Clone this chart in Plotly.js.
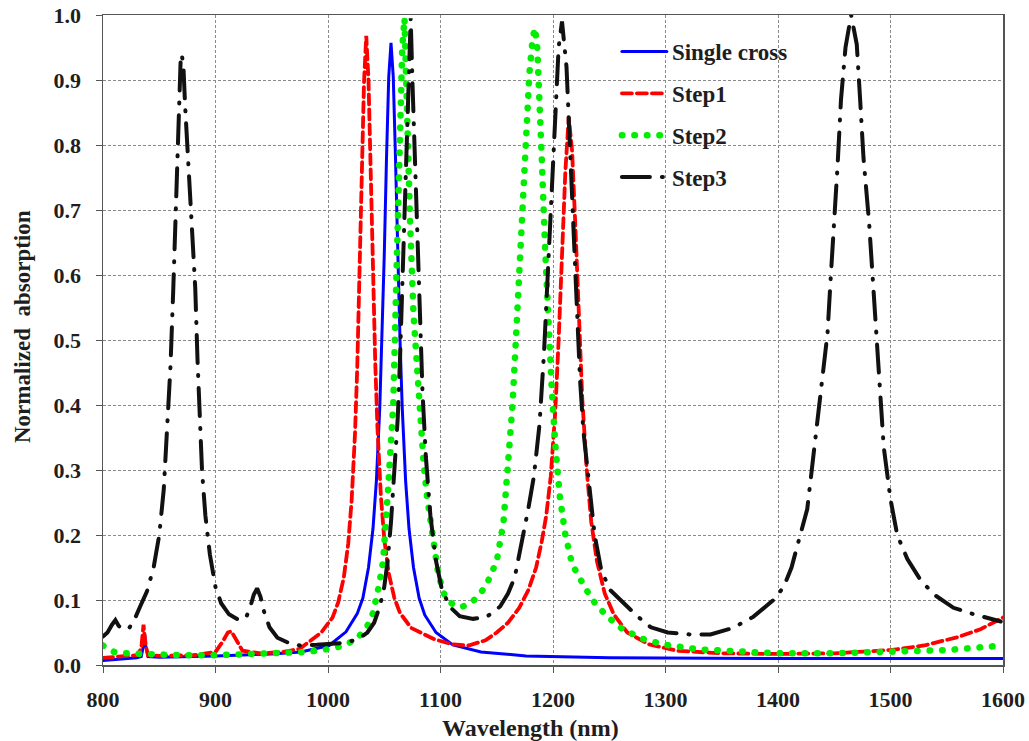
<!DOCTYPE html>
<html>
<head>
<meta charset="utf-8">
<script src="https://cdn.plot.ly/plotly-3.0.1.min.js"></script>
<style>
  html, body { margin: 0; padding: 0; background: #fff; }
  #chart { width: 1029px; height: 741px; }
  .scatterlayer .js-line, .legend .js-line { stroke-linecap: round; }
</style>
</head>
<body>
<div id="chart"></div>
<script>
// Wavelength (nm) and normalized absorption values
var singleX = [800, 820, 830, 834, 836, 837, 838, 840, 850, 900, 950, 976, 1001, 1016, 1026, 1031, 1036, 1040, 1043, 1046, 1048, 1050, 1052, 1054, 1056, 1058, 1060, 1062, 1064, 1066, 1069, 1072, 1076, 1081, 1086, 1096, 1111, 1136, 1176, 1250, 1400, 1600];
var singleY = [0.007, 0.009, 0.011, 0.013, 0.03, 0.047, 0.03, 0.013, 0.012, 0.014, 0.017, 0.02, 0.03, 0.051, 0.079, 0.103, 0.15, 0.21, 0.283, 0.395, 0.5, 0.63, 0.78, 0.905, 0.957, 0.905, 0.78, 0.63, 0.5, 0.395, 0.283, 0.21, 0.15, 0.103, 0.077, 0.05, 0.031, 0.02, 0.014, 0.011, 0.01, 0.01];

var step1X = [800, 820, 830, 834, 836, 837, 838, 840, 850, 880, 900, 906, 911, 914, 918, 924, 940, 960, 975, 994, 1004, 1009, 1014, 1018, 1021, 1024, 1026, 1028, 1030, 1032, 1034, 1036, 1038, 1040, 1042, 1044, 1047, 1050, 1054, 1059, 1064, 1074, 1094, 1110, 1125, 1140, 1150, 1160, 1170, 1178, 1185, 1190, 1194, 1198, 1202, 1205, 1208, 1211, 1214, 1217, 1220, 1223, 1226, 1230, 1234, 1239, 1246, 1254, 1266, 1285, 1310, 1350, 1400, 1450, 1500, 1530, 1560, 1580, 1600];
var step1Y = [0.011, 0.013, 0.015, 0.025, 0.062, 0.045, 0.03, 0.015, 0.014, 0.015, 0.02, 0.035, 0.05, 0.052, 0.04, 0.022, 0.018, 0.02, 0.025, 0.05, 0.073, 0.096, 0.134, 0.187, 0.253, 0.356, 0.458, 0.591, 0.75, 0.896, 0.968, 0.9, 0.757, 0.598, 0.465, 0.363, 0.26, 0.194, 0.141, 0.103, 0.08, 0.057, 0.04, 0.032, 0.03, 0.038, 0.05, 0.065, 0.088, 0.115, 0.15, 0.19, 0.23, 0.29, 0.39, 0.5, 0.63, 0.76, 0.843, 0.79, 0.67, 0.53, 0.41, 0.3, 0.22, 0.16, 0.11, 0.078, 0.05, 0.032, 0.022, 0.018, 0.017, 0.018, 0.023, 0.03, 0.043, 0.055, 0.073];

var step2X = [800, 810, 820, 840, 870, 900, 930, 960, 980, 995, 1010, 1020, 1028, 1035, 1040, 1045, 1049, 1053, 1056, 1058, 1061, 1063.8, 1066, 1068, 1070, 1073, 1076, 1079, 1082, 1085, 1088, 1093, 1098, 1103, 1108, 1114, 1120, 1126, 1130, 1140, 1150, 1156, 1160, 1164, 1167, 1170, 1173, 1176, 1179, 1182, 1184, 1186, 1188, 1190, 1193, 1196, 1199, 1202, 1206, 1211, 1217, 1225, 1235, 1248, 1262, 1280, 1300, 1330, 1370, 1400, 1450, 1500, 1550, 1600];
var step2Y = [0.03, 0.02, 0.018, 0.016, 0.015, 0.015, 0.016, 0.018, 0.02, 0.023, 0.028, 0.035, 0.045, 0.06, 0.08, 0.12, 0.16, 0.26, 0.33, 0.4, 0.61, 0.82, 0.95, 0.995, 0.85, 0.68, 0.54, 0.46, 0.39, 0.31, 0.26, 0.19, 0.14, 0.11, 0.097, 0.09, 0.09, 0.095, 0.1, 0.12, 0.16, 0.22, 0.3, 0.4, 0.5, 0.61, 0.72, 0.82, 0.91, 0.965, 0.98, 0.95, 0.88, 0.78, 0.64, 0.52, 0.42, 0.34, 0.26, 0.2, 0.155, 0.13, 0.1, 0.075, 0.055, 0.04, 0.031, 0.024, 0.02, 0.018, 0.018, 0.02, 0.023, 0.03];

var step3X = [800, 804, 808, 811, 814, 818, 823, 828, 833, 839, 845, 850, 854, 857, 860, 862.5, 865, 867, 869, 870, 871.5, 873, 875, 877.5, 880, 882, 884, 886, 888, 891, 895, 900, 905, 912, 920, 927, 931, 934, 937, 940, 943, 948, 955, 965, 975, 990, 1005, 1015, 1027, 1035, 1041, 1046, 1050, 1053, 1056, 1059, 1062, 1064, 1066.5, 1069, 1071, 1072.5, 1073.5, 1075, 1077, 1079, 1081.5, 1084, 1087, 1091, 1096, 1101, 1108, 1117, 1129, 1141, 1153, 1160, 1166, 1172, 1178, 1183, 1188, 1192, 1196, 1199, 1202, 1205, 1208, 1210, 1212, 1215, 1218, 1221, 1224, 1227, 1231, 1237, 1243, 1251, 1263, 1275, 1287, 1302, 1322, 1340, 1360, 1378, 1396, 1405, 1412, 1420, 1426, 1432, 1438, 1444, 1447, 1450, 1453, 1456, 1460, 1465, 1470, 1473, 1476, 1481, 1484, 1487, 1491, 1494, 1500, 1506, 1515, 1527, 1539, 1556, 1574, 1598];
var step3Y = [0.044, 0.05, 0.062, 0.069, 0.06, 0.055, 0.056, 0.07, 0.09, 0.113, 0.15, 0.2, 0.27, 0.36, 0.46, 0.58, 0.72, 0.85, 0.93, 0.94, 0.92, 0.86, 0.8, 0.74, 0.66, 0.58, 0.47, 0.38, 0.3, 0.23, 0.17, 0.12, 0.095, 0.078, 0.07, 0.072, 0.09, 0.108, 0.118, 0.105, 0.083, 0.058, 0.042, 0.034, 0.03, 0.031, 0.032, 0.034, 0.04, 0.05, 0.065, 0.09, 0.12, 0.16, 0.22, 0.29, 0.38, 0.47, 0.6, 0.74, 0.86, 0.95, 0.995, 0.9, 0.8, 0.69, 0.55, 0.42, 0.32, 0.23, 0.16, 0.118, 0.09, 0.075, 0.071, 0.074, 0.09, 0.11, 0.135, 0.185, 0.24, 0.29, 0.37, 0.48, 0.63, 0.75, 0.86, 0.95, 0.99, 0.96, 0.92, 0.8, 0.67, 0.54, 0.44, 0.36, 0.29, 0.2, 0.145, 0.115, 0.095, 0.075, 0.058, 0.05, 0.047, 0.047, 0.057, 0.074, 0.1, 0.12, 0.15, 0.2, 0.24, 0.33, 0.42, 0.51, 0.6, 0.68, 0.77, 0.87, 0.95, 1.0, 0.955, 0.87, 0.78, 0.68, 0.6, 0.51, 0.42, 0.335, 0.255, 0.2, 0.163, 0.13, 0.108, 0.088, 0.078, 0.067];

var seriesNames = ['Single cross', 'Step1', 'Step2', 'Step3'];
var xTicks = [800, 900, 1000, 1100, 1200, 1300, 1400, 1500, 1600];
var yTicks = [0.0, 0.1, 0.2, 0.3, 0.4, 0.5, 0.6, 0.7, 0.8, 0.9, 1.0];
var xTitle = 'Wavelength (nm)';
var yTitle = 'Normalized\u00a0 absorption';

var serif = 'Liberation Serif, Times New Roman, serif';
var ink = '#1e1e1e';

var traces = [
  {x: singleX, y: singleY, name: seriesNames[0], legendgroup: 'a', mode: 'lines',
   line: {color: '#0000ff', width: 3}},
  {x: step1X, y: step1Y, name: seriesNames[1], legendgroup: 'b', mode: 'lines',
   line: {color: '#ff0000', width: 3.8, dash: '10px,5px'}},
  {x: step2X, y: step2Y, name: seriesNames[2], legendgroup: 'c', mode: 'lines',
   line: {color: '#00ee00', width: 6.5, dash: '0.5px,12px'}},
  {x: step3X, y: step3Y, name: seriesNames[3], legendgroup: 'd', mode: 'lines',
   line: {color: '#111111', width: 4, dash: '28px,12px,1px,12px'}}
];

var layout = {
  width: 1029, height: 741,
  paper_bgcolor: '#ffffff', plot_bgcolor: '#ffffff',
  margin: {l: 103, r: 26, t: 15, b: 76},
  font: {family: serif, color: ink, size: 22, weight: 'bold'},
  showlegend: true,
  legend: {
    x: 0.571, y: 0.977, xanchor: 'left', yanchor: 'top',
    bgcolor: 'rgba(0,0,0,0)', borderwidth: 0,
    font: {family: serif, size: 23, color: ink, weight: 'bold'},
    tracegroupgap: 9, itemwidth: 45
  },
  xaxis: {
    range: [800, 1600], tickvals: xTicks, ticktext: xTicks.map(String),
    showgrid: true, gridcolor: '#8a8a8a', gridwidth: 1, griddash: '3px,2px',
    showline: true, linecolor: '#555', linewidth: 1.5, mirror: true,
    ticks: 'outside', ticklen: 6, tickcolor: '#555', ticklabelstandoff: 8,
    tickfont: {family: serif, size: 22, color: ink, weight: 'bold'},
    zeroline: false
  },
  yaxis: {
    range: [0, 1.0], tickvals: yTicks, tickformat: '.1f',
    showgrid: true, gridcolor: '#8a8a8a', gridwidth: 1, griddash: '3px,2px',
    showline: true, linecolor: '#555', linewidth: 1.5, mirror: true,
    ticks: 'outside', ticklen: 6, tickcolor: '#555', ticklabelstandoff: 10,
    tickfont: {family: serif, size: 22, color: ink, weight: 'bold'},
    zeroline: false
  },
  annotations: [
    {text: xTitle, xref: 'paper', yref: 'paper', x: 0.475, y: -0.097,
     xanchor: 'center', yanchor: 'middle', showarrow: false,
     font: {family: serif, size: 24, color: ink, weight: 'bold'}},
    {text: yTitle, xref: 'paper', yref: 'paper', x: -0.09, y: 0.52,
     xanchor: 'center', yanchor: 'middle', showarrow: false, textangle: -90,
     font: {family: serif, size: 23, color: ink, weight: 'bold'}}
  ]
};

Plotly.newPlot('chart', traces, layout, {displayModeBar: false, staticPlot: true});
</script>
</body>
</html>
